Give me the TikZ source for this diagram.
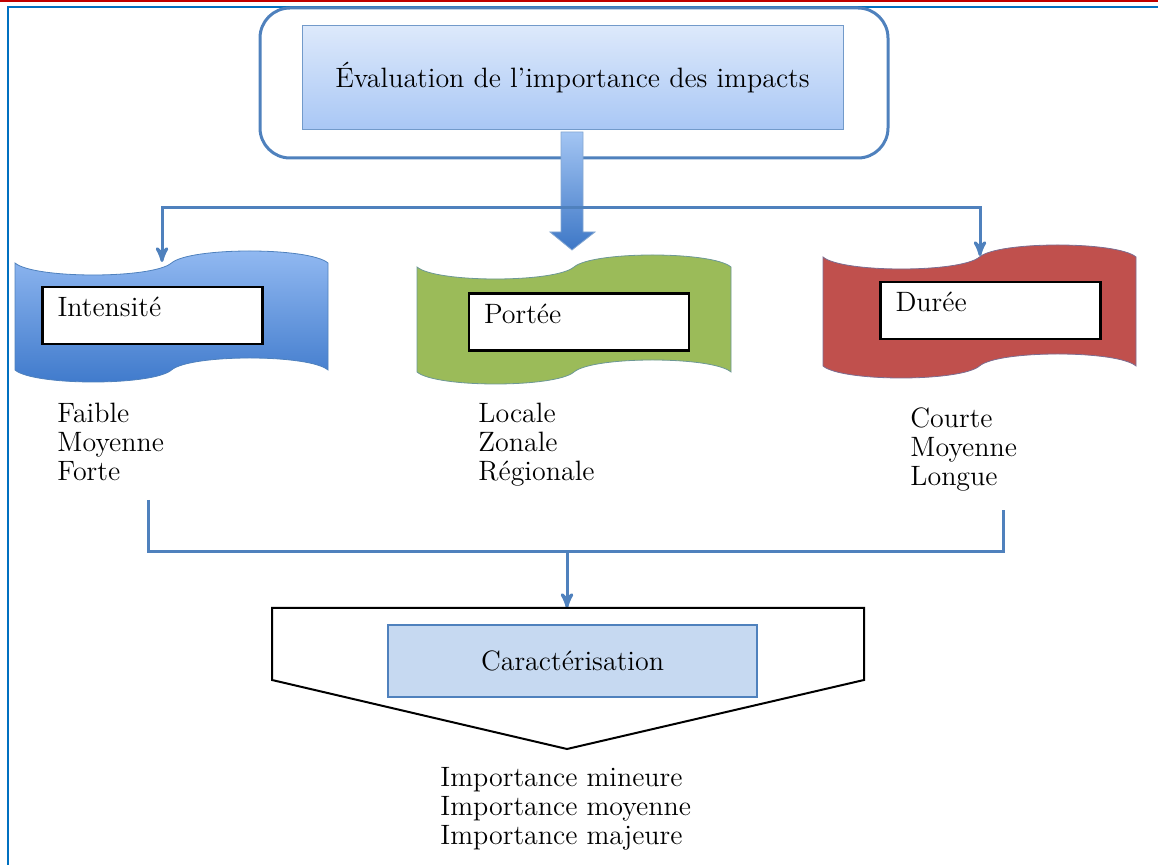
\documentclass[tikz,border=0pt]{standalone}
\usetikzlibrary{arrows,shapes,shadows}

\definecolor{lineblue}{HTML}{4F81BD}
\definecolor{frameblue}{HTML}{0070C0}
\definecolor{framered}{HTML}{C00000}
\definecolor{titletop}{HTML}{DDE9FB}
\definecolor{titlebot}{HTML}{A9C7F5}
\definecolor{arrowtop}{HTML}{A3C5F3}
\definecolor{arrowbot}{HTML}{3D77C6}
\definecolor{intenstop}{HTML}{93BAF2}
\definecolor{intensbot}{HTML}{3E79CB}
\definecolor{porteegreen}{HTML}{9BBB59}
\definecolor{dureered}{HTML}{C0504D}
\definecolor{caracfill}{HTML}{C6D9F1}

\tikzstyle{line}=[lineblue,line width=1.5pt]
\tikzstyle{outerbox}=[rectangle,draw=lineblue,line width=1.5pt,rounded corners=15pt,
                      minimum width=314pt,minimum height=75pt]
\tikzstyle{titlebox}=[rectangle,draw=lineblue!80,line width=0.5pt,top color=titletop,
                      bottom color=titlebot,minimum width=270.5pt,minimum height=52pt]
\tikzstyle{labelbox}=[rectangle,draw=black,line width=1.4pt,fill=white,text width=95pt,
                      align=left,inner xsep=7.5pt,minimum height=28.5pt,
                      text height=10pt,text depth=8.5pt]
\tikzstyle{valuelist}=[align=left,anchor=north west,inner sep=0pt]
\tikzstyle{caracbox}=[rectangle,draw=lineblue,line width=0.6pt,fill=caracfill,
                      minimum width=184.5pt,minimum height=36pt]

% punched tape banner: #1 left, #2 right, #3 top, #4 bottom, #5 style
\newcommand{\tapeshape}[5]{%
  \path[#5] (#1,#3)
    .. controls ({#1+0.06*(#2-#1)},{#3+16}) and ({(#1+#2)/2-0.06*(#2-#1)},{#3+16}) .. ({(#1+#2)/2},#3)
    .. controls ({(#1+#2)/2+0.06*(#2-#1)},{#3-16}) and ({#2-0.06*(#2-#1)},{#3-16}) .. (#2,#3)
    -- (#2,#4)
    .. controls ({#2-0.06*(#2-#1)},{#4-16}) and ({(#1+#2)/2+0.06*(#2-#1)},{#4-16}) .. ({(#1+#2)/2},#4)
    .. controls ({(#1+#2)/2-0.06*(#2-#1)},{#4+16}) and ({#1+0.06*(#2-#1)},{#4+16}) .. (#1,#4)
    -- cycle;}

\begin{document}
\begin{tikzpicture}[x=0.5pt,y=-0.5pt,>=stealth',font=\fontsize{14}{14.5}\selectfont]
  \useasboundingbox (0,0) rectangle (1158,865);

  % page frame
  \draw[framered,line width=1pt] (0,1) -- (1158,1);
  \draw[frameblue,line width=1.2pt] (8,865) -- (8,7) -- (1158,7);

  \node[outerbox] (outer) at (574,83) {};
  \node[titlebox] (title) at (572.5,78) {Évaluation de l'importance des impacts};

  % big arrow down
  \shadedraw[top color=arrowtop,bottom color=arrowbot,draw=lineblue!70,line width=0.4pt]
    (561,132) -- (583,132) -- (583,232) -- (595,232) -- (572,250) -- (550,232) -- (561,232) -- cycle;

  \coordinate (inttop) at (162,262);
  \coordinate (durtop) at (980,256);
  \draw[line,<->] (inttop) -- ++(0,-54) -| (durtop);

  % banners
  \tapeshape{15}{328}{263}{370}{draw=lineblue,line width=0.4pt,top color=intenstop,bottom color=intensbot}
  \tapeshape{417}{731}{267}{372}{draw=lineblue!60!porteegreen,line width=0.4pt,fill=porteegreen}
  \tapeshape{823}{1136}{257}{366}{draw=lineblue!60!dureered,line width=0.4pt,fill=dureered}

  \node[labelbox] (intensite) at (152.5,315.5) {Intensité};
  \node[labelbox] (portee) at (579,322) {Portée};
  \node[labelbox] (duree) at (990.5,310.5) {Durée};

  \node[valuelist] (intlist) at (57,403) {Faible\\Moyenne\\Forte};
  \node[valuelist] (porlist) at (478,403) {Locale\\Zonale\\Régionale};
  \node[valuelist] (durlist) at (910,407) {Courte\\Moyenne\\Longue};

  % gathering lines
  \coordinate (gatherL) at (148,500);
  \coordinate (gatherR) at (1003,510);
  \coordinate (gatherM) at (567,552);
  \draw[line] (gatherL) |- (gatherM) -| (gatherR);

  \coordinate (penttop) at (567,608);
  \draw[line,->] (gatherM) -- (penttop);

  % characterisation
  \draw[black,line width=1pt] (272,608) -- (864,608) -- (864,680) -- (567,749) -- (272,680) -- cycle;
  \node[caracbox] (carac) at (572.5,661) {Caractérisation};
  \node[valuelist] (implist) at (440,767) {Importance mineure\\Importance moyenne\\Importance majeure};
\end{tikzpicture}
\end{document}
